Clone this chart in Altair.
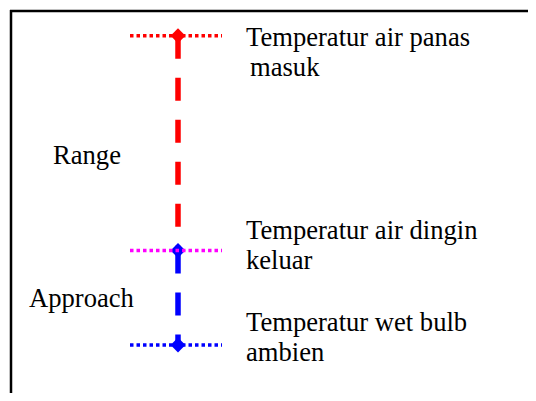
import altair as alt
import pandas as pd

# ---- data ----
levels = ["hot_in", "cold_out", "wet_bulb"]
temps = [45.0, 30.0, 23.4]
labels = ["Temperatur air panas\nmasuk",
          "Temperatur air dingin\nkeluar",
          "Temperatur wet bulb\nambien"]
guide_colors = ["#FF0000", "#FF00FF", "#0000FF"]
marker_colors = ["#FF0000", "#0000FF", "#0000FF"]

span_names = ["Range", "Approach"]
span_top = [45.0, 30.0]
span_bottom = [30.0, 23.4]
span_colors = ["#FF0000", "#0000FF"]

# ---- layout constants ----
W, H = 520, 385
Y_DOMAIN = [(677 - H) / 14.4667, 677 / 14.4667]
X_CENTER = 168
X_GUIDE = (120, 212)
X_LABEL = 236
FONT = "Liberation Serif"
FS = 26.6
LH = 30

pts = pd.DataFrame({"level": levels, "temp": temps, "label": labels,
                    "guide": guide_colors, "marker": marker_colors})
spans = pd.DataFrame({"name": span_names, "top": span_top,
                      "bottom": span_bottom, "color": span_colors})
spans["mid"] = (spans["top"] + spans["bottom"]) / 2

yscale = alt.Scale(domain=Y_DOMAIN, nice=False, zero=False)

vert = alt.Chart(spans).mark_rule(strokeWidth=5.5, strokeDash=[23, 19], strokeCap="butt").encode(
    x=alt.value(X_CENTER),
    y=alt.Y("top:Q", scale=yscale, axis=None),
    y2="bottom:Q",
    color=alt.Color("color:N", scale=None),
)

diam = alt.Chart(pts).mark_point(shape="diamond", filled=True, size=220, opacity=1).encode(
    x=alt.value(X_CENTER),
    y=alt.Y("temp:Q", scale=yscale, axis=None),
    color=alt.Color("marker:N", scale=None),
)

guides = alt.Chart(pts).mark_rule(strokeWidth=3.5, strokeDash=[3.5, 3], strokeCap="butt").encode(
    x=alt.value(X_GUIDE[0]),
    x2=alt.value(X_GUIDE[1]),
    y=alt.Y("temp:Q", scale=yscale, axis=None),
    color=alt.Color("guide:N", scale=None),
)

# (level, line index, dx, dy)
label_pos = [("hot_in", 0, 0, 10), ("hot_in", 1, 4, 10 + LH),
             ("cold_out", 0, 0, -11), ("cold_out", 1, 0, -11 + LH),
             ("wet_bulb", 0, 0, -14), ("wet_bulb", 1, 0, -14 + LH)]
label_layers = []
for lv, li, dx, dy in label_pos:
    label_layers.append(
        alt.Chart(pts).transform_filter(alt.datum.level == lv).transform_calculate(
            line=f"split(datum.label, '\\n')[{li}]"
        ).mark_text(
            align="left", baseline="alphabetic", font=FONT, fontSize=FS,
            dx=dx, dy=dy, color="black"
        ).encode(
            x=alt.value(X_LABEL),
            y=alt.Y("temp:Q", scale=yscale, axis=None),
            text="line:N",
        )
    )

span_pos = {"Range": (43, 20.5), "Approach": (19, 9.3)}
span_layers = []
for nm, (xx, dy) in span_pos.items():
    span_layers.append(
        alt.Chart(spans).transform_filter(alt.datum.name == nm).mark_text(
            align="left", baseline="alphabetic", font=FONT, fontSize=FS, dy=dy, color="black"
        ).encode(
            x=alt.value(xx),
            y=alt.Y("mid:Q", scale=yscale, axis=None),
            text="name:N",
        )
    )

one = pd.DataFrame({"k": [0]})
frame_top = alt.Chart(one).mark_rule(strokeWidth=2.5, color="black", strokeCap="butt").encode(
    x=alt.value(0), x2=alt.value(W), y=alt.value(1)
)
frame_left = alt.Chart(one).mark_rule(strokeWidth=2.5, color="black", strokeCap="butt").encode(
    x=alt.value(1), y=alt.value(0), y2=alt.value(H)
)

chart = alt.layer(
    frame_top, frame_left, vert, diam, guides, *label_layers, *span_layers
).properties(
    width=W, height=H, padding=0,
    autosize=alt.AutoSizeParams(type="fit", contains="padding"),
    background="white",
).configure_view(stroke=None)

chart.save("out.html", embed_options={"renderer": "svg", "actions": False})
